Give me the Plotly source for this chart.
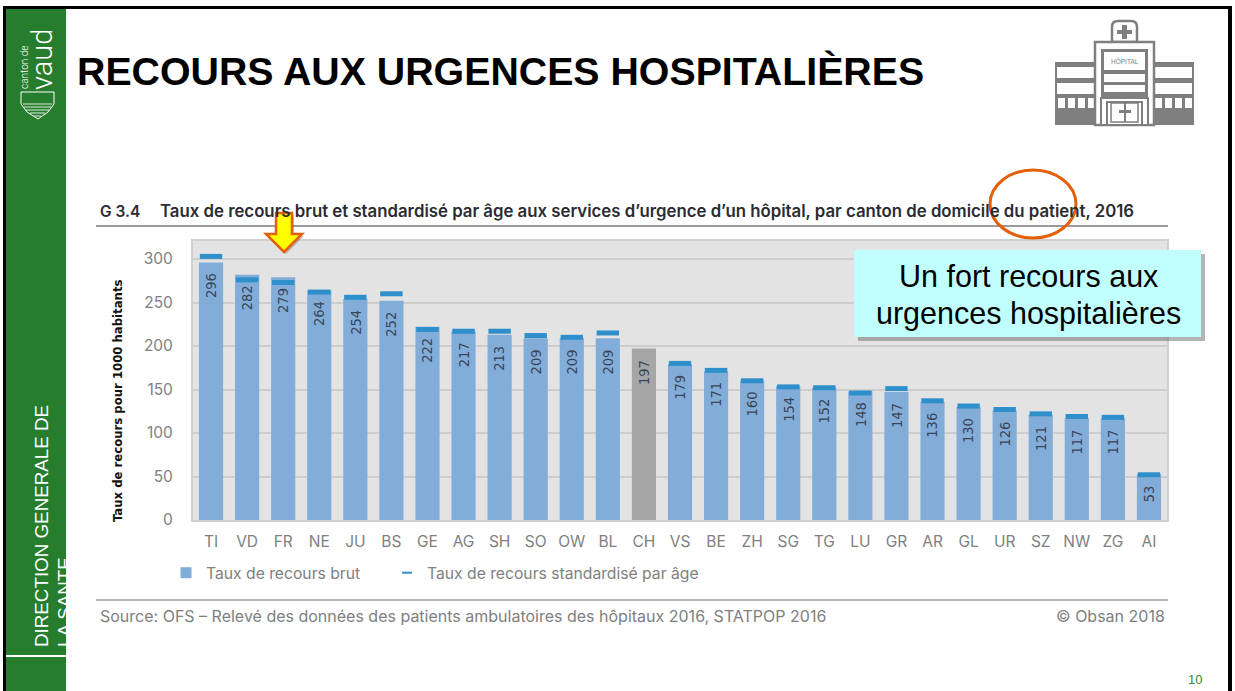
import plotly.graph_objects as go

cantons = ["TI","VD","FR","NE","JU","BS","GE","AG","SH","SO","OW","BL","CH","VS","BE","ZH","SG","TG","LU","GR","AR","GL","UR","SZ","NW","ZG","AI"]
taux_brut = [296,282,279,264,254,252,222,217,213,209,209,209,197,179,171,160,154,152,148,147,136,130,126,121,117,117,53]
taux_std = [303,276,273,262,256,260,219,217,217,212,210,215,None,180,172,160,153,152,146,151,137,131,127,122,119,118,52]
y_ticks = [0,50,100,150,200,250,300]
BAR, STD, GREY = "#83ADD9", "#2E8FCB", "#A6A6A6"
bar_colors = [GREY if c == "CH" else BAR for c in cantons]

W, H = 1235, 691
L, R, T, B = 193, 1167, 241, 520
px = lambda x: (x - L) / (R - L)
py = lambda y: (B - y) / (B - T)

shapes = []
def rect(x0, y0, x1, y1, fill, line=None, lw=0):
    shapes.append(dict(type="rect", xref="paper", yref="paper", x0=px(x0), x1=px(x1), y0=py(y0), y1=py(y1),
                       fillcolor=fill, line=dict(color=line or fill, width=lw), layer="above"))
def hline(x0, x1, y, color, lw):
    shapes.append(dict(type="line", xref="paper", yref="paper", x0=px(x0), x1=px(x1), y0=py(y), y1=py(y),
                       line=dict(color=color, width=lw), layer="above"))
def poly(pts, fill, line="rgba(0,0,0,0)", lw=0):
    d = "M" + "L".join(f"{px(a):.5f},{py(b):.5f}" for a, b in pts) + "Z"
    shapes.append(dict(type="path", xref="paper", yref="paper", path=d, fillcolor=fill,
                       line=dict(color=line, width=lw), layer="above"))

# slide frame and sidebar
rect(6, 9, 66, 691, "#267D2D")
rect(3, 6, 6, 691, "#000000")
rect(3, 6, 1232, 9, "#000000")
rect(1228, 6, 1232, 691, "#000000")
hline(6, 66, 656, "#FFFFFF", 2)
# shield of the logo
poly([(21,92),(54,92),(54,104),(48,112),(38,119),(27,112),(21,104)], "rgba(0,0,0,0)", "#FFFFFF", 1)
for yy, a, b in [(104,23,52),(107,24,51),(110,26,49),(113,30,45),(116,34,41)]:
    hline(a, b, yy, "#DDEEDD", 1)
# section rules
hline(96, 1168, 226, "#9A9A9A", 2)
hline(96, 1168, 600, "#B5B5B5", 2)

# hospital icon
G = "#7F7F7F"
rect(1055, 62, 1194, 125, G)
for a, b in [(1057, 1095), (1155, 1192)]:
    rect(a, 67, b, 78, "#FFFFFF")
    rect(a, 83, b, 94, "#FFFFFF")
for a in (1058, 1068, 1078, 1088, 1155, 1165, 1175, 1185):
    rect(a, 98, a + 7, 108, "#FFFFFF")
shapes.append(dict(type="path", xref="paper", yref="paper", layer="above", fillcolor="#FFFFFF",
                   line=dict(color=G, width=2.5),
                   path="M%.5f,%.5f L%.5f,%.5f Q%.5f,%.5f %.5f,%.5f L%.5f,%.5f Q%.5f,%.5f %.5f,%.5f L%.5f,%.5f Z" % (
                       px(1112), py(42), px(1112), py(27), px(1112), py(21), px(1118), py(21),
                       px(1131), py(21), px(1137), py(21), px(1137), py(27), px(1137), py(42))))
rect(1117, 30, 1132, 34, G)
rect(1122, 25, 1127, 39, G)
rect(1095, 42, 1154, 125, "#FFFFFF", G, 2.5)
rect(1101, 49, 1148, 98, G)
rect(1104, 52, 1145, 70, "#FFFFFF")
rect(1104, 74, 1145, 82, "#FFFFFF")
rect(1104, 85, 1145, 92, "#FFFFFF")
rect(1101, 98, 1148, 125, "#FFFFFF", G, 2)
rect(1107, 102, 1142, 125, "#FFFFFF", G, 2)
rect(1111, 103, 1138, 122, "#FFFFFF", G, 1.5)
rect(1124, 103, 1126, 122, G)
rect(1119, 110, 1131, 113, G)

# callout
rect(858, 254, 1205, 341, "rgba(90,90,90,0.45)")
rect(854, 250, 1201, 337, "#C1FFFF")
# ellipse
shapes.append(dict(type="circle", xref="paper", yref="paper", x0=px(990), x1=px(1076), y0=py(170), y1=py(238),
                   line=dict(color="#E36009", width=3), fillcolor="rgba(0,0,0,0)", layer="above"))
# arrow
arrow = [(276,213),(292,213),(292,234),(302,234),(284,252),(266,234),(276,234)]
poly([(a + 2, b + 2) for a, b in arrow], "rgba(90,90,90,0.35)")
poly(arrow, "#FFFF00", "#E36009", 2.5)

def note(text, x, y, size, color="#000000", family="Liberation Sans", anchor="left", valign="middle", angle=0, weight=None):
    f = dict(family=family, size=size, color=color)
    if weight:
        f["weight"] = weight
    return dict(text=text, xref="paper", yref="paper", x=px(x), y=py(y), xanchor=anchor, yanchor=valign,
                showarrow=False, textangle=angle, font=f)

UI = "Inter"
NARROW = "DejaVu Sans Condensed"
notes = [
    note("<b>RECOURS AUX URGENCES HOSPITALIÈRES</b>", 75, 71, 39.3),
    note("G 3.4", 98, 211, 15.5, "#2B2B33", UI, weight=600),
    note("Taux de recours brut et standardisé par âge aux services d’urgence d’un hôpital, par canton de domicile du patient, 2016",
         158, 211, 16.8, "#2B2B33", UI, weight=600),
    note("Source: OFS – Relevé des données des patients ambulatoires des hôpitaux 2016, STATPOP 2016", 98, 616, 16, "#808080", UI),
    note("© Obsan 2018", 1167, 616, 16, "#808080", UI, anchor="right"),
    note("10", 1195, 679, 13, "#2E8B2E", anchor="center"),
    note("Un fort recours aux", 1028, 276, 30.5, anchor="center"),
    note("urgences hospitalières", 1028, 313, 30.5, anchor="center"),
    note("Taux de recours pour 1000 habitants", 117, 401, 13, "#111111", NARROW, anchor="center", angle=-90, weight=600),
    note("DIRECTION GENERALE DE", 41, 649, 18.8, "#FFFFFF", anchor="center", valign="bottom", angle=-90),
    note("LA SANTE", 64, 649, 18.8, "#FFFFFF", anchor="center", valign="bottom", angle=-90),
    note("vaud", 42, 60, 29, "#FFFFFF", "Roboto", anchor="center", angle=-90, weight=300),
    note("canton de", 24, 68, 10, "#FFFFFF", "Roboto", anchor="center", angle=-90, weight=300),
    note("HÔPITAL", 1124.5, 61, 6.5, G, anchor="center"),
]
for c, v in zip(cantons, taux_brut):
    notes.append(dict(text=str(v), x=c, y=v, xref="x", yref="y", yanchor="top", xanchor="center", yshift=-9,
                      showarrow=False, textangle=-90,
                      font=dict(family=NARROW, size=14.5, color="#3A4556")))

fig = go.Figure()
fig.add_bar(x=cantons, y=taux_brut, marker=dict(color=bar_colors, line=dict(width=0)), showlegend=False, hoverinfo="x+y")
fig.add_scatter(x=cantons, y=taux_std, mode="markers", showlegend=False,
                marker=dict(symbol="line-ew", size=16, line=dict(color=STD, width=5)))
fig.add_scatter(x=[None], y=[None], mode="markers", name="Taux de recours brut",
                marker=dict(symbol="square", size=11, color=BAR))
fig.add_scatter(x=[None], y=[None], mode="markers", name="Taux de recours standardisé par âge", legend="legend2",
                marker=dict(symbol="line-ew", size=7, line=dict(color=STD, width=2)))

leg = dict(orientation="h", xanchor="left", y=py(573), yanchor="middle", itemwidth=30,
           font=dict(family=UI, size=15.7, color="#808080"), itemclick=False, itemdoubleclick=False)
tickf = dict(family=UI, size=15.5, color="#808080")
fig.update_layout(
    width=W, height=H, margin=dict(l=L, r=W - R, t=T, b=H - B),
    paper_bgcolor="#FFFFFF", plot_bgcolor="#E3E3E3", bargap=0.33,
    shapes=shapes, annotations=notes,
    font=dict(family=UI, size=15.5, color="#808080"),
    legend=dict(leg, x=px(166)),
    legend2=dict(leg, x=px(387)),
    xaxis=dict(type="category", categoryorder="array", categoryarray=cantons, ticks="", showgrid=False,
               showline=True, linecolor="#D0D0D0", linewidth=2, mirror=True, tickfont=tickf,
               ticklabelstandoff=6, range=[-0.5, 26.5], tickangle=0),
    yaxis=dict(range=[0, 320.7], tickmode="array", tickvals=y_ticks, ticks="", showgrid=True, gridcolor="#CDCDCD", gridwidth=1.5,
               showline=True, linecolor="#D0D0D0", linewidth=2, mirror=True, zeroline=False,
               tickfont=tickf, ticklabelstandoff=15),
)
fig.write_html("out.html", config=dict(displayModeBar=False),
               post_script="document.body.style.margin='0';document.body.style.overflow='hidden';")
